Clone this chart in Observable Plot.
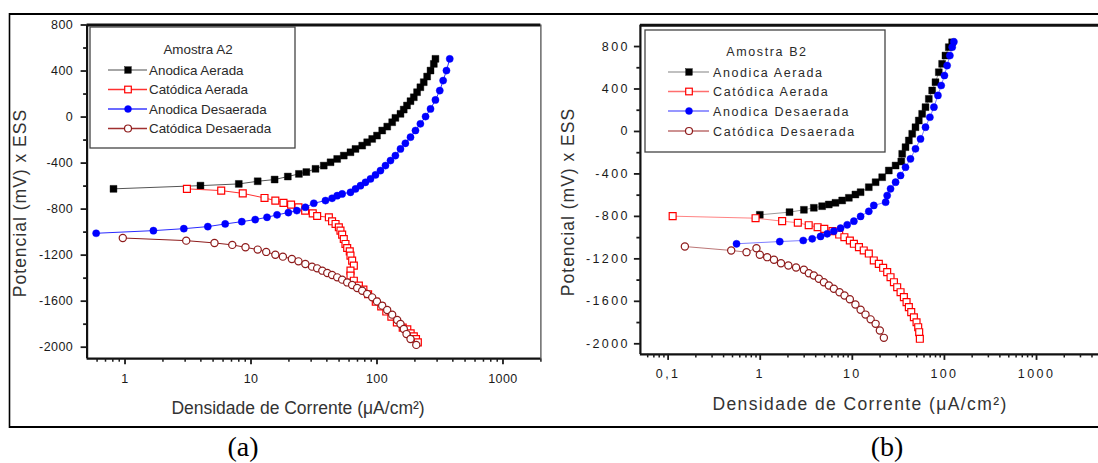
<!DOCTYPE html>
<html><head><meta charset="utf-8">
<script src="https://cdn.jsdelivr.net/npm/d3@7"></script>
<script src="https://cdn.jsdelivr.net/npm/@observablehq/plot@0.6"></script>
<style>
html,body{margin:0;padding:0;background:#fff;overflow:hidden;}
#wrap{position:relative;width:1098px;height:463px;overflow:hidden;background:#fff;}
#wrap > svg{position:absolute;top:0;}
</style></head><body><div id="wrap"></div>
<script>
// ---------- DATA (current density µA/cm², potential mV) ----------
const seriesNames = ["Anodica Aerada", "Catódica Aerada", "Anodica Desaerada", "Catódica Desaerada"];
const yTicks = [-2000, -1600, -1200, -800, -400, 0, 400, 800];
const yMinorTicks = [-1800, -1400, -1000, -600, -200, 200, 600];
const A_xTicks = [1, 10, 100, 1000];
const B_xTicks = [0.1, 1, 10, 100, 1000];
const A_title = "Amostra A2";
const B_title = "Amostra B2";
const xLabel = "Densidade de Corrente (μA/cm²)";
const yLabel = "Potencial (mV) x ESS";

const A_anodicaAerada = [[0.81,-624],[3.97,-596],[8.0,-581],[11.3,-558],[15.4,-543],[19.6,-517],[24,-494],[27.5,-478],[32.5,-450],[37.8,-422],[42.8,-393],[48.3,-364],[54.5,-335],[61.6,-306],[67.5,-277],[76.3,-248],[83.6,-219],[91.6,-190],[100,-161],[110,-117],[120.6,-83],[132,-45],[140,-7],[153.6,28],[163,65],[173,100],[184.5,138],[196,172],[208,216],[221,259],[235,303],[250,352],[266,404],[282.5,462],[291,506]];
const A_catodicaAerada = [[3.1,-624],[5.8,-639],[8.6,-663],[12.8,-703],[15.6,-726],[18.1,-746],[20.8,-761],[23.8,-784],[26.9,-813],[30.9,-837],[33.5,-860],[41.5,-871],[44,-906],[46.9,-929],[49.8,-958],[51.3,-987],[52.9,-1022],[54.5,-1060],[56.2,-1103],[58,-1138],[60.8,-1167],[61.6,-1204],[63.5,-1248],[65.5,-1291],[61.6,-1335],[61.6,-1378],[65.5,-1422],[71.8,-1465],[78,-1500],[85,-1540],[97.8,-1605],[108,-1645],[118.5,-1690],[130,-1735],[143.8,-1784],[160,-1830],[174,-1845],[185,-1880],[196,-1905],[204,-1929],[211,-1958]];
const A_anodicaDesaerada = [[0.59,-1010],[1.68,-987],[2.93,-970],[4.54,-952],[6.24,-929],[8.45,-909],[10.8,-891],[13.4,-871],[16.1,-850],[19.8,-830],[23.1,-813],[27,-784],[31.5,-749],[39,-726],[44,-706],[48.3,-683],[52.9,-668],[61.6,-654],[67.5,-625],[74,-596],[81,-567],[88.8,-538],[97.3,-503],[106.6,-465],[116.8,-422],[128,-378],[140,-335],[153.6,-277],[168,-228],[184.5,-175],[202,-117],[221,-59],[243,4],[266,71],[291,149],[315,230],[335,317],[356,404],[378,506]];
const A_catodicaDesaerada = [[0.96,-1051],[3.06,-1074],[5.13,-1094],[7.1,-1111],[9.04,-1132],[11.3,-1152],[13.2,-1172],[15.6,-1196],[17.9,-1213],[21.1,-1233],[23.8,-1254],[27,-1277],[30.5,-1300],[33.5,-1315],[36.8,-1335],[40.3,-1355],[44,-1372],[48.3,-1393],[52.9,-1413],[58,-1437],[63.5,-1459],[69.6,-1485],[76.3,-1509],[83.6,-1537],[91.6,-1567],[100,-1602],[110,-1639],[120.5,-1677],[132,-1717],[144.7,-1764],[153.6,-1799],[163.3,-1842],[171.5,-1886],[184.5,-1929],[205,-1980]];

const B_anodicaAerada = [[0.99,-785],[2.08,-760],[2.98,-738],[3.82,-719],[4.7,-704],[5.55,-688],[6.56,-672],[7.76,-650],[9.17,-625],[10.8,-594],[12.3,-572],[15.1,-525],[17.9,-478],[21.1,-431],[24.9,-368],[29.5,-321],[34,-283],[34.8,-211],[37.8,-148],[41.1,-85],[44.7,-22],[48.5,40],[52.7,103],[57.3,166],[62.3,229],[67.7,307],[73.6,386],[80,464],[86.9,558],[94.4,637],[102.6,715],[111.6,794],[121.3,840]];
const B_catodicaAerada = [[0.112,-798],[0.89,-817],[1.73,-845],[2.56,-860],[3.36,-883],[4.2,-902],[4.96,-918],[6.1,-939],[7.2,-971],[8.2,-996],[9.4,-1027],[10.4,-1058],[11.8,-1090],[13.3,-1121],[15.1,-1150],[17.1,-1215],[19.4,-1247],[21.6,-1284],[23.9,-1325],[26,-1373],[28.3,-1420],[30.7,-1467],[33.4,-1514],[36.3,-1561],[38.8,-1608],[41.1,-1655],[43.6,-1702],[46.6,-1750],[49.8,-1797],[51.9,-1844],[53.2,-1891],[54.1,-1953]];
const B_anodicaDesaerada = [[0.553,-1058],[1.63,-1037],[2.93,-1027],[3.67,-1011],[4.52,-989],[5.34,-964],[6.3,-939],[7.45,-911],[8.8,-879],[10.4,-845],[12.3,-800],[15.1,-752],[17.1,-697],[23,-666],[23.9,-603],[26,-540],[29.5,-478],[33.4,-415],[37.8,-337],[42.8,-258],[48.5,-164],[55,-70],[62.3,40],[69.5,134],[76.9,229],[85,339],[92.3,433],[100,527],[107,621],[114.6,715],[121.5,794],[126.7,845]];
const B_catodicaDesaerada = [[0.152,-1084],[0.484,-1121],[0.71,-1137],[0.91,-1100],[0.99,-1162],[1.19,-1184],[1.41,-1209],[1.68,-1241],[2.02,-1262],[2.45,-1282],[2.98,-1303],[3.37,-1335],[3.82,-1357],[4.33,-1388],[4.91,-1420],[5.56,-1451],[6.3,-1482],[7.26,-1514],[8.23,-1545],[9.4,-1580],[10.8,-1630],[12.3,-1680],[13.9,-1725],[15.8,-1770],[17.9,-1812],[19.9,-1875],[22,-1944]];

// ---------- STYLE ----------
const styles = [
  {color: "#000000", line: "#555555", legLine: "#888888", symbol: "square", filled: true},
  {color: "#ff0000", line: "#ff3030", legLine: "#ff3030", symbol: "square", filled: false},
  {color: "#0000ff", line: "#2a2aff", legLine: "#3a3aff", symbol: "circle", filled: true},
  {color: "#8e1b1b", line: "#8e1b1b", legLine: "#a03030", symbol: "circle", filled: false}
];
const FONT = "'Liberation Sans', Arial, Helvetica, sans-serif";

function minorLog(lo, hi) {
  const out = [];
  for (let e = Math.floor(Math.log10(lo)); e <= Math.ceil(Math.log10(hi)); e++) {
    for (let m = 2; m <= 9; m++) { const v = m * Math.pow(10, e); if (v >= lo * 1.0001 && v <= hi) out.push(v); }
  }
  return out;
}

function seriesMarks(data, st, lineOpacity) {
  const acc = {x: d => d[0], y: d => d[1]};
  const sq = st.symbol === "square";
  return [
    Plot.line(data, {...acc, stroke: st.line, strokeWidth: 1, strokeOpacity: lineOpacity}),
    Plot.dot(data, {...acc, symbol: st.symbol, r: sq ? 3.9 : 3.6,
      fill: st.filled ? st.color : "white", stroke: st.color, strokeWidth: st.filled ? 0.4 : 1.2})
  ];
}

function panel(cfg) {
  const marks = [
    Plot.ruleX([cfg.xDomain[1]], {stroke: "#444", strokeWidth: 1.2}),
  ];
  cfg.series.forEach((s, i) => marks.push(...seriesMarks(s, styles[i], cfg.lineOpacity)));
  marks.push(
    Plot.ruleX([cfg.xDomain[0]], {stroke: "#111", strokeWidth: 2.2}),
    Plot.ruleY([cfg.yDomain[0]], {stroke: "#111", strokeWidth: 2.2}),
    Plot.ruleY([cfg.yDomain[1]], {stroke: "#111", strokeWidth: 3}),
    Plot.axisY({ticks: yTicks, tickSize: 6, tickPadding: cfg.yPad, tickFormat: d => String(d), strokeWidth: 1.8, label: null, fontSize: 12.5}),
    Plot.axisY({ticks: yMinorTicks, tickSize: 3.5, tickFormat: () => "", strokeWidth: 1.8, label: null}),
    Plot.axisX({ticks: cfg.xTicks, tickSize: 6, tickPadding: 9, tickFormat: d => String(d).replace(".", ","), strokeWidth: 1.8, label: null, fontSize: 12.5}),
    Plot.axisX({ticks: minorLog(cfg.xDomain[0], cfg.xDomain[1]), tickSize: 3.5, tickFormat: () => "", strokeWidth: 1.5, label: null})
  );
  const svg = Plot.plot({
    width: cfg.width, height: 463,
    marginLeft: cfg.mL, marginRight: cfg.mR, marginTop: cfg.mT, marginBottom: cfg.mB,
    x: {type: "log", domain: cfg.xDomain},
    y: {domain: cfg.yDomain},
    style: {background: "transparent", fontFamily: FONT, fontSize: "12.5px", color: "#1a1a1a", overflow: "visible", letterSpacing: cfg.tickLS},
    marks
  });
  svg.style.left = cfg.left + "px";
  const g = d3.select(svg).append("g").attr("font-family", FONT).attr("text-anchor", "start");

  // legend
  const L = cfg.legend;
  g.append("rect").attr("x", L.x).attr("y", L.y).attr("width", L.w).attr("height", L.h)
    .attr("fill", "white").attr("stroke", "#444").attr("stroke-width", 1.3);
  g.append("text").attr("x", L.titleX).attr("y", L.titleY).attr("text-anchor", "middle")
    .attr("font-size", L.fs).style("letter-spacing", L.ls).attr("fill", "#2a2a2a").text(cfg.title);
  seriesNames.forEach((name, i) => {
    const st = styles[i], cy = L.rows[i];
    g.append("line").attr("x1", L.lx1).attr("x2", L.lx2).attr("y1", cy).attr("y2", cy)
      .attr("stroke", st.legLine).attr("stroke-width", 1.6).attr("stroke-opacity", cfg.lineOpacity < 1 ? 0.7 : 1);
    if (st.symbol === "square") {
      const s = 6.6;
      g.append("rect").attr("x", L.mx - s / 2).attr("y", cy - s / 2).attr("width", s).attr("height", s)
        .attr("fill", st.filled ? st.color : "white").attr("stroke", st.color).attr("stroke-width", st.filled ? 0.4 : 1.2);
    } else {
      g.append("circle").attr("cx", L.mx).attr("cy", cy).attr("r", 3.5)
        .attr("fill", st.filled ? st.color : "white").attr("stroke", st.color).attr("stroke-width", st.filled ? 0.4 : 1.2);
    }
    g.append("text").attr("x", L.tx).attr("y", cy + L.fs * 0.37).attr("font-size", L.fs).attr("text-anchor", "start")
      .style("letter-spacing", L.ls).attr("fill", "#2a2a2a").text(name);
  });

  // axis labels
  g.append("text").attr("x", cfg.xl.x).attr("y", cfg.xl.y).attr("text-anchor", "middle")
    .attr("font-size", 17.5).style("letter-spacing", cfg.xl.ls).attr("fill", "#333").text(xLabel);
  g.append("text").attr("transform", `translate(${cfg.yl.x},${cfg.yl.y}) rotate(-90)`).attr("text-anchor", "middle")
    .attr("font-size", 17.5).style("letter-spacing", cfg.yl.ls).attr("fill", "#333").text(yLabel);
  // caption
  g.append("text").attr("x", cfg.cap.x).attr("y", cfg.cap.y).attr("text-anchor", "middle")
    .attr("font-family", "'Liberation Serif', 'Times New Roman', serif").attr("font-size", 28)
    .style("letter-spacing", "0px").attr("fill", "#000").text(cfg.cap.text);
  return svg;
}

const wrap = document.getElementById("wrap");

wrap.appendChild(panel({
  left: 0, width: 550, mL: 86.6, mR: 9.6, mT: 24.5, mB: 104.8,
  xDomain: [0.5, 2000], yDomain: [-2100, 800], xTicks: A_xTicks, yPad: 8, tickLS: "0.4px",
  lineOpacity: 1,
  series: [A_anodicaAerada, A_catodicaAerada, A_anodicaDesaerada, A_catodicaDesaerada],
  title: A_title,
  legend: {x: 90, y: 27, w: 205, h: 121, titleX: 198, titleY: 54, rows: [70, 89.5, 109, 128.5],
    lx1: 108, lx2: 147, mx: 128, tx: 149, fs: 13.4, ls: "0px"},
  xl: {x: 298, y: 414, ls: "0px"},
  yl: {x: 26, y: 203, ls: "1px"},
  cap: {x: 243, y: 456, text: "(a)"}
}));

wrap.appendChild(panel({
  left: 550, width: 560, mL: 89.9, mR: 9.6, mT: 24.8, mB: 109.1,
  xDomain: [0.05, 5000], yDomain: [-2100, 1000], xTicks: B_xTicks, yPad: 4.5, tickLS: "2.4px",
  lineOpacity: 0.6,
  series: [B_anodicaAerada, B_catodicaAerada, B_anodicaDesaerada, B_catodicaDesaerada],
  title: B_title,
  legend: {x: 95, y: 30, w: 240, h: 122, titleX: 217, titleY: 56, rows: [72, 91.5, 111, 131],
    lx1: 118, lx2: 159, mx: 139, tx: 163, fs: 12.5, ls: "1.6px"},
  xl: {x: 310, y: 410, ls: "1.4px"},
  yl: {x: 24, y: 202, ls: "1px"},
  cap: {x: 337, y: 456, text: "(b)"}
}));

// outer table border lines
const ov = d3.select(wrap).append("svg").attr("width", 1098).attr("height", 463)
  .style("left", "0px").style("pointer-events", "none");
ov.append("line").attr("x1", 9).attr("x2", 1098).attr("y1", 14).attr("y2", 14).attr("stroke", "#000").attr("stroke-width", 1.8);
ov.append("line").attr("x1", 9).attr("x2", 1098).attr("y1", 427).attr("y2", 427).attr("stroke", "#000").attr("stroke-width", 2);
ov.append("line").attr("x1", 9.5).attr("x2", 9.5).attr("y1", 13).attr("y2", 428).attr("stroke", "#000").attr("stroke-width", 1.6);
</script></body></html>
